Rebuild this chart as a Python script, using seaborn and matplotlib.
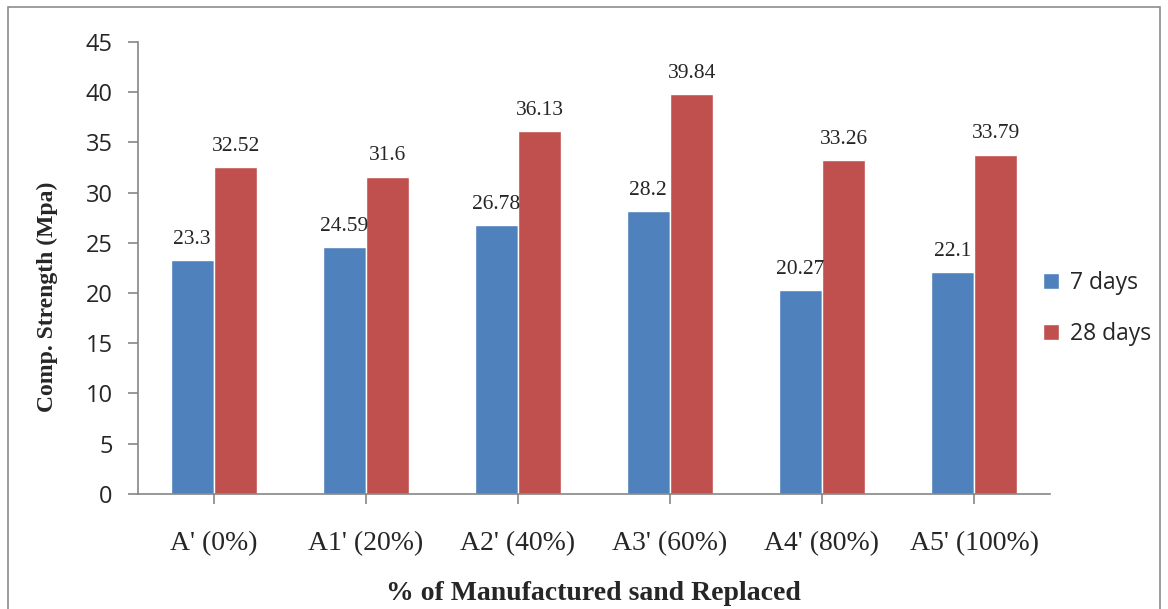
import matplotlib
matplotlib.use("Agg")
import matplotlib.pyplot as plt
from matplotlib.patches import Rectangle
import seaborn as sns
import pandas as pd

mixes = ["A' (0%)", "A1' (20%)", "A2' (40%)", "A3' (60%)", "A4' (80%)", "A5' (100%)"]
days_7 = [23.3, 24.59, 26.78, 28.2, 20.27, 22.1]
days_28 = [32.52, 31.6, 36.13, 39.84, 33.26, 33.79]
ages = ["7 days", "28 days"]
colors = ["#4F81BD", "#C0504D"]

df = pd.DataFrame({
    "mix": mixes * 2,
    "strength": days_7 + days_28,
    "age": [ages[0]] * len(mixes) + [ages[1]] * len(mixes),
})

sns.set_style("white")
serif = ["Liberation Serif", "DejaVu Serif"]
sans = ["Open Sans", "DejaVu Sans"]

fig = plt.figure(figsize=(11.68, 6.09), dpi=100)
ax = fig.add_axes([0.118, 0.189, 0.781, 0.742])

sns.barplot(data=df, x="mix", y="strength", hue="age", palette=colors,
            width=0.57, saturation=1, ax=ax, errorbar=None)

# value labels above bars
for cont in ax.containers:
    ax.bar_label(cont, labels=[f"{v:g}" for v in cont.datavalues],
                 padding=8, fontsize=15.5, family=serif)

ax.set_ylim(0, 45)
ax.set_yticks(range(0, 46, 5))
ax.set_xlim(-0.5, len(mixes) - 0.5)

for side in ["top", "right"]:
    ax.spines[side].set_visible(False)
for side in ["left", "bottom"]:
    ax.spines[side].set_color("#868686")
    ax.spines[side].set_linewidth(1.2)

ax.tick_params(axis="y", length=7, width=1.2, color="#868686", pad=11,
               left=True, labelsize=17)
ax.tick_params(axis="x", length=7, width=1.2, color="#868686", pad=20,
               bottom=True, direction="out")
for t in ax.get_yticklabels():
    t.set_family(sans)
for t in ax.get_xticklabels():
    t.set_family(serif)
    t.set_fontsize(20)

ax.set_ylabel("Comp. Strength (Mpa)", fontsize=17, fontweight="bold",
              family=serif)
ax.yaxis.set_label_coords(-0.088, 0.436)
ax.set_xlabel("% of Manufactured sand Replaced", fontsize=20,
              fontweight="bold", family=serif, labelpad=18)

leg = ax.legend(loc="center left", bbox_to_anchor=(0.97, 0.41), frameon=False,
                handlelength=0.7, handleheight=0.7, handletextpad=0.45,
                labelspacing=1.2, prop={"family": sans, "size": 16.5})

# outer border of the chart area
fig.patches.append(Rectangle((8 / 1168, -0.05), 1152 / 1168, 1.05 - 7 / 609,
                             transform=fig.transFigure, fill=False,
                             edgecolor="#8c8c8c", linewidth=1.2))

fig.savefig("out.png", dpi=100)
